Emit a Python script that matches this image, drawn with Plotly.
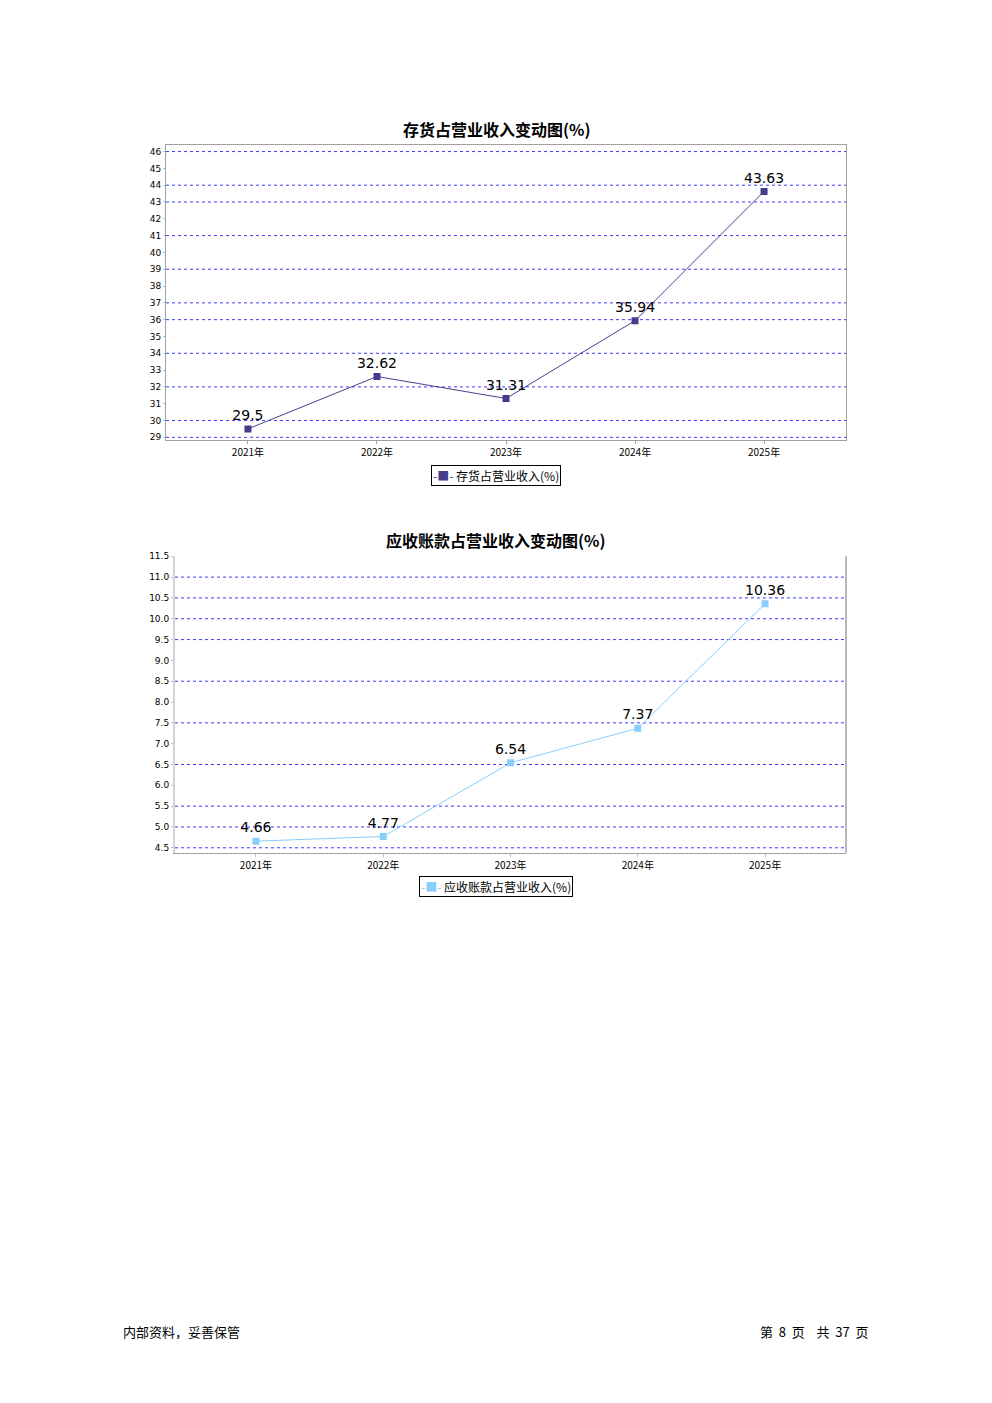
import plotly.graph_objects as go

years = ["2021年", "2022年", "2023年", "2024年", "2025年"]
inventory_pct = [29.5, 32.62, 31.31, 35.94, 43.63]
receivable_pct = [4.66, 4.77, 6.54, 7.37, 10.36]
inv_ticks = list(range(29, 47))
rec_ticks = [4.5, 5.0, 5.5, 6.0, 6.5, 7.0, 7.5, 8.0, 8.5, 9.0, 9.5, 10.0, 10.5, 11.0, 11.5]
inv_grid = [29, 30, 32, 34, 36, 37, 39, 41, 43, 44, 46]
rec_grid = [4.5, 5.0, 5.5, 6.5, 7.5, 8.5, 9.5, 10.0, 10.5, 11.0]

W, H = 992, 1403
OFF = 8  # page body margin
def px(x): return (x - OFF) / W
def py(y): return (H - (y - OFF)) / H

FONT = "DejaVu Sans, Noto Sans CJK SC"
CJK = "Noto Sans CJK SC"
INV_C = "#463c8c"
REC_C = "#87cefa"
GRID_C = "#3a3aff"
fig = go.Figure()

fig.add_trace(go.Scatter(
    x=years, y=inventory_pct, mode="lines+markers+text", name="存货占营业收入(%)",
    line=dict(color="#4b3f8f", width=1), marker=dict(symbol="square", size=7, color=INV_C),
    text=[str(v) for v in inventory_pct], textposition="top center",
    textfont=dict(size=14, color="#000000", family=FONT),
    xaxis="x", yaxis="y", showlegend=False))

fig.add_trace(go.Scatter(
    x=years, y=receivable_pct, mode="lines+markers+text", name="应收账款占营业收入(%)",
    line=dict(color=REC_C, width=1), marker=dict(symbol="square", size=7, color=REC_C),
    text=[str(v) for v in receivable_pct], textposition="top center",
    textfont=dict(size=14, color="#000000", family=FONT),
    xaxis="x2", yaxis="y2", showlegend=False))

for v in inv_grid:
    fig.add_shape(type="line", xref="x domain", yref="y", x0=0, x1=1, y0=v, y1=v,
                  line=dict(color=GRID_C, width=1, dash="dot"), layer="below")
for v in rec_grid:
    fig.add_shape(type="line", xref="x2 domain", yref="y2", x0=0, x1=1, y0=v, y1=v,
                  line=dict(color=GRID_C, width=1, dash="dot"), layer="below")
# right border of lower chart
fig.add_shape(type="line", xref="x2 domain", yref="y2 domain", x0=1, x1=1, y0=0, y1=1,
              line=dict(color="#a0a0a0", width=1.5))

fig.update_layout(
    width=W, height=H, margin=dict(l=0, r=0, t=0, b=0),
    paper_bgcolor="white", plot_bgcolor="white",
    font=dict(family=FONT, color="#000000"),
    showlegend=False,
    xaxis=dict(domain=[px(166), px(846)], anchor="y", range=[-0.635, 4.635],
               showline=True, linecolor="#a0a0a0", mirror=True, showgrid=False,
               ticks="outside", ticklen=3, tickcolor="#a0a0a0",
               tickfont=dict(size=10, family=CJK)),
    yaxis=dict(domain=[py(437.5), py(140.5)], anchor="x", range=[28.82, 46.4],
               tickvals=inv_ticks, ticktext=[str(v) for v in inv_ticks],
               showline=True, linecolor="#a0a0a0", mirror=True, zeroline=False,
               showgrid=False, ticks="outside", ticklen=2, tickcolor="#c0c0c0",
               tickfont=dict(size=9)),
    xaxis2=dict(domain=[px(175), px(846)], anchor="y2", range=[-0.636, 4.636],
                showline=True, linecolor="#a0a0a0", showgrid=False,
                ticks="outside", ticklen=3, tickcolor="#c0c0c0",
                tickfont=dict(size=10, family=CJK)),
    yaxis2=dict(domain=[py(852), py(554)], anchor="x2", range=[4.38, 11.5],
                tickvals=rec_ticks, ticktext=[f"{v:.1f}" for v in rec_ticks],
                showline=True, linecolor="#d4d4d4", linewidth=2, mirror=False,
                zeroline=False, showgrid=False, ticks="outside", ticklen=2,
                tickcolor="#c0c0c0", tickfont=dict(size=9)),
)

def note(text, x, y, size, xanchor="center", **kw):
    fig.add_annotation(text=text, x=px(x), y=py(y), xref="paper", yref="paper",
                       xanchor=xanchor, yanchor="middle", showarrow=False,
                       font=dict(size=size, family=CJK, color="#000000"), **kw)

note("<b>存货占营业收入变动图(%)</b>", 497, 125, 16)
note("<b>应收账款占营业收入变动图(%)</b>", 496, 538, 16)

# legends (compact boxed keys)
note(f"<span style='color:{INV_C}'>-■-</span> 存货占营业收入(%)", 496, 473, 12,
     bordercolor="#000000", borderwidth=1, borderpad=1, bgcolor="white")
note(f"<span style='color:{REC_C}'>-■-</span> 应收账款占营业收入(%)", 496, 886, 12,
     bordercolor="#000000", borderwidth=1, borderpad=1, bgcolor="white")

note("内部资料，妥善保管", 121, 1333, 13, xanchor="left")
note("第  8  页    共  37  页", 871, 1333, 13, xanchor="right")

fig.write_html("out.html")
